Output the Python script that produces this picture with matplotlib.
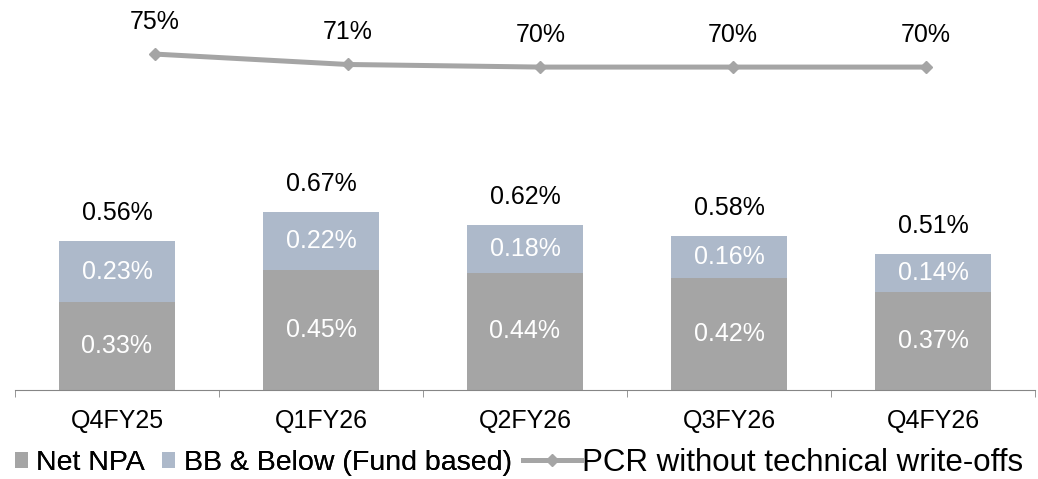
import numpy as np
import matplotlib.pyplot as plt
from matplotlib.legend_handler import HandlerPatch
from matplotlib.patches import Rectangle

plt.rcParams['font.family'] = ['Liberation Sans', 'DejaVu Sans']

quarters = ['Q4FY25', 'Q1FY26', 'Q2FY26', 'Q3FY26', 'Q4FY26']
net_npa = [0.33, 0.45, 0.44, 0.42, 0.37]
bb_below = [0.23, 0.22, 0.18, 0.16, 0.14]
totals = [0.56, 0.67, 0.62, 0.58, 0.51]
pcr = [75, 71, 70, 70, 70]

c_npa = '#A5A5A5'
c_bb = '#ADB9CA'
c_line = '#A5A5A5'
c_axis = '#868686'

W, H = 1038, 479
fig = plt.figure(figsize=(W / 100, H / 100), dpi=100)
pos = [15 / W, 89 / H, 1020 / W, 390 / H]
ax = fig.add_axes(pos)
x = np.arange(len(quarters))

b1 = ax.bar(x, net_npa, width=0.57, color=c_npa, label='Net NPA')
b2 = ax.bar(x, bb_below, width=0.57, bottom=net_npa, color=c_bb,
            label='BB & Below (Fund based)')

for i in range(len(x)):
    ax.text(x[i], net_npa[i] / 2, f'{net_npa[i]:.2f}%', ha='center', va='center',
            color='white', fontsize=18)
    ax.text(x[i], net_npa[i] + bb_below[i] / 2, f'{bb_below[i]:.2f}%', ha='center',
            va='center', color='white', fontsize=18)
    ax.annotate(f'{totals[i]:.2f}%', (x[i], totals[i]), xytext=(0, 15),
                textcoords='offset points', ha='center', va='baseline', fontsize=18)

ax.set_xlim(-0.5, len(x) - 0.5)
ax.set_ylim(0, 1.466)
ax.set_yticks([])
for s in ['top', 'right', 'left']:
    ax.spines[s].set_visible(False)
ax.spines['bottom'].set_color(c_axis)
ax.set_xticks(x)
ax.set_xticklabels(quarters, fontsize=18)
ax.tick_params(axis='x', length=0, pad=14)
ax.set_xticks(np.arange(-0.5, len(x)), minor=True)
ax.tick_params(axis='x', which='minor', length=5, color=c_axis)

# line sits on its own x scale, slightly narrower than the bars
ax2 = fig.add_axes(pos)
ax2.patch.set_visible(False)
ln, = ax2.plot(x, pcr, color=c_line, lw=3.6, marker='D', ms=6.5,
               label='PCR without technical write-offs')
for i in range(len(x)):
    ax2.annotate(f'{pcr[i]}%', (x[i], pcr[i]), xytext=(0, 18), textcoords='offset points',
                 ha='center', va='baseline', fontsize=18)
ax2.set_xlim(-0.726, 4.566)
ax2.set_ylim(-54.2, 95.8)
ax2.set_xticks([])
ax2.set_yticks([])
for s in ['top', 'right', 'left', 'bottom']:
    ax2.spines[s].set_visible(False)


def square(legend, orig_handle, xdescent, ydescent, width, height, fontsize):
    return Rectangle((-xdescent, -ydescent), width, height)


leg1 = fig.legend(handles=[b1, b2], loc='center left', bbox_to_anchor=(15 / W, 16 / H),
                  ncol=2, frameon=False, fontsize=20.5, handlelength=0.45, handleheight=0.45,
                  handletextpad=0.3, columnspacing=0.6, borderpad=0, borderaxespad=0,
                  handler_map={Rectangle: HandlerPatch(patch_func=square)})
leg2 = fig.legend(handles=[ln], loc='center left', bbox_to_anchor=(523 / W, 16 / H),
                  frameon=False, fontsize=22.5, handlelength=1.85, handletextpad=0.05,
                  borderpad=0, borderaxespad=0)
fig.add_artist(leg1)

fig.savefig('out.png', dpi=100)
